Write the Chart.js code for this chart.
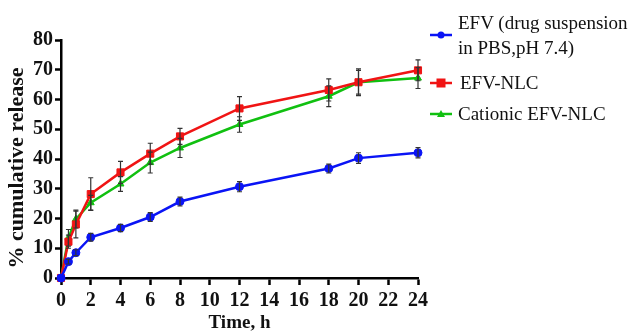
<!DOCTYPE html>
<html>
<head>
<meta charset="utf-8">
<script src="https://cdn.jsdelivr.net/npm/chart.js@4/dist/chart.umd.min.js"></script>
<style>
  body { margin: 0; background: #fff; }
  #wrap { position: relative; width: 631px; height: 334px; }
  #legend { position: absolute; left: 430px; top: 10px; font-family: "Liberation Serif", "Times New Roman", serif; font-size: 19px; color: #111; }
  .item { position: absolute; left: 0; white-space: nowrap; line-height: 22px; }
  .item svg { position: absolute; left: 0; }
  .item span { position: absolute; }
</style>
</head>
<body>
<div id="wrap">
  <canvas id="releaseChart" width="631" height="334"></canvas>
  <div id="legend"></div>
</div>
<script>
// dados
const tempos = [0, 0.5, 1, 2, 4, 6, 8, 12, 18, 20, 24];
const efvSusp = [0, 5.5, 8.5, 13.7, 16.8, 20.5, 25.7, 30.7, 36.8, 40.3, 42.1];
const efvSuspErr = [0, 0.8, 1, 1.3, 1.2, 1.5, 1.5, 1.7, 1.5, 1.8, 1.7];
const efvNlc = [0, 12.2, 18, 28.2, 35.5, 41.8, 47.6, 57, 63.2, 65.8, 69.8];
const efvNlcErr = [0, 2.2, 4.5, 5.5, 3.7, 3.5, 2.7, 4, 3.7, 4.5, 3.5];
const cationic = [0, 13.5, 19.8, 25.3, 31.6, 38.8, 43.7, 51.6, 61.1, 65.8, 67.2];
const cationicErr = [0, 2.8, 3, 2.5, 2.5, 3.5, 3.2, 2.6, 3.5, 4, 3.5];
const xTicks = [0, 2, 4, 6, 8, 10, 12, 14, 16, 18, 20, 22, 24];
const yTitulo = "% cumulative release";

function pontos(valores) {
  return tempos.map((t, i) => ({ x: t, y: valores[i] }));
}

const serif = "'Liberation Serif', 'Times New Roman', serif";

// Plugin para barras de erro
const errorBars = {
  id: "errorBars",
  afterDatasetsDraw(chart) {
    const ctx = chart.ctx;
    const xs = chart.scales.x;
    const ys = chart.scales.y;
    ctx.save();
    ctx.strokeStyle = "#333";
    ctx.lineWidth = 1.2;
    chart.data.datasets.forEach((ds) => {
      ds.err.forEach((e, i) => {
        if (!e) return;
        const px = xs.getPixelForValue(tempos[i]);
        const top = ys.getPixelForValue(ds.data[i].y + e);
        const bot = ys.getPixelForValue(ds.data[i].y - e);
        ctx.beginPath();
        ctx.moveTo(px, top); ctx.lineTo(px, bot);
        ctx.moveTo(px - 2.5, top); ctx.lineTo(px + 2.5, top);
        ctx.moveTo(px - 2.5, bot); ctx.lineTo(px + 2.5, bot);
        ctx.stroke();
      });
    });
    ctx.restore();
  },
};

// Título do eixo Y (um pouco abaixo do centro, como no original)
const yTitle = {
  id: "yTitle",
  afterDraw(chart) {
    const ctx = chart.ctx;
    ctx.save();
    ctx.translate(17, 168);
    ctx.rotate(-Math.PI / 2);
    ctx.font = "bold 22px " + serif;
    ctx.fillStyle = "#111";
    ctx.textAlign = "center";
    ctx.textBaseline = "middle";
    ctx.fillText(yTitulo, 0, 0);
    ctx.restore();
  },
};

const serie = (label, valores, err, cor, estilo, raio) => ({
  label: label,
  data: pontos(valores),
  err: err,
  borderColor: cor,
  backgroundColor: cor,
  borderWidth: 2.5,
  pointStyle: estilo,
  pointRadius: raio,
  pointBorderWidth: 1,
  fill: false,
  tension: 0,
  clip: false,
});

const datasets = [
  serie("EFV (drug suspension\nin PBS,pH 7.4)", efvSusp, efvSuspErr, "#0a14f5", "circle", 4),
  serie("EFV-NLC", efvNlc, efvNlcErr, "#f01414", "rect", 5),
  serie("Cationic EFV-NLC", cationic, cationicErr, "#10c010", "triangle", 4),
];

const tickFont = { family: serif, size: 20, weight: "bold" };

new Chart(document.getElementById("releaseChart"), {
  type: "line",
  data: { datasets: datasets },
  options: {
    responsive: false,
    animation: false,
    layout: { padding: { left: 0, top: 40, right: 213, bottom: 0 } },
    plugins: { legend: { display: false }, tooltip: { enabled: false } },
    scales: {
      x: {
        type: "linear",
        min: 0,
        max: 24,
        afterBuildTicks: (s) => { s.ticks = xTicks.map((v) => ({ value: v })); },
        afterFit: (s) => { s.height = 56; },
        border: { color: "#000", width: 2.5 },
        grid: { drawOnChartArea: false, drawTicks: true, tickLength: 7, tickColor: "#000", tickWidth: 2.5 },
        ticks: { color: "#111", font: tickFont, padding: 4, maxRotation: 0 },
        title: { display: true, text: "Time, h", color: "#111", font: { family: serif, size: 19, weight: "bold" }, padding: { top: 0, bottom: 0 } },
      },
      y: {
        min: 0,
        max: 80,
        afterFit: (s) => { s.width = 61; },
        border: { color: "#000", width: 2.5 },
        grid: { drawOnChartArea: false, drawTicks: true, tickLength: 6, tickColor: "#000", tickWidth: 2.5 },
        ticks: { stepSize: 10, color: "#111", font: tickFont, padding: 2 },
      },
    },
  },
  plugins: [errorBars, yTitle],
});

// Legenda em HTML
const legend = document.getElementById("legend");
const posLegenda = [14, 62, 93];
const textoX = [28, 30, 28];
datasets.forEach((ds, i) => {
  const item = document.createElement("div");
  item.className = "item";
  item.style.top = posLegenda[i] + "px";
  const linhas = ds.label.split("\n");
  let marca = "";
  if (ds.pointStyle === "circle") marca = `<circle cx="11" cy="11" r="3.5" fill="${ds.borderColor}"/>`;
  if (ds.pointStyle === "rect") marca = `<rect x="6.5" y="6.5" width="9" height="9" fill="${ds.borderColor}"/>`;
  if (ds.pointStyle === "triangle") marca = `<polygon points="11,7 15,14 7,14" fill="${ds.borderColor}"/>`;
  item.innerHTML =
    `<svg width="22" height="22" style="top:0"><line x1="0" y1="11" x2="22" y2="11" stroke="${ds.borderColor}" stroke-width="2.5"/>${marca}</svg>` +
    linhas.map((l, j) => `<span style="left:${textoX[i]}px;top:${(j - (linhas.length - 1) / 2) * 25}px">${l}</span>`).join("");
  legend.appendChild(item);
});
</script>
</body>
</html>
